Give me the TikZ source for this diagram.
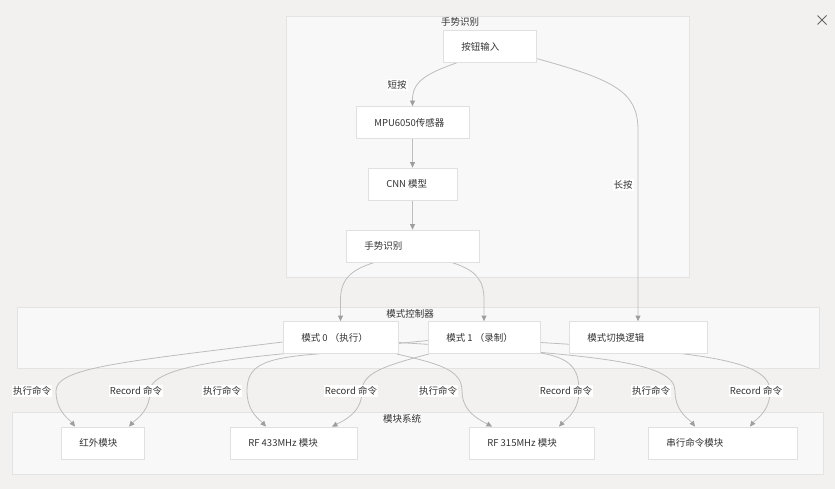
\documentclass[tikz,border=0pt]{standalone}
\usepackage{fontspec}
\setmainfont{Noto Sans CJK SC}
\usetikzlibrary{arrows.meta,calc}
\definecolor{bgc}{HTML}{F2F1F0}
\definecolor{sgfill}{HTML}{F8F8F8}
\definecolor{sgline}{HTML}{E3E3E3}
\definecolor{nline}{HTML}{E0E0E0}
\definecolor{eline}{HTML}{BDBDBD}
\definecolor{ahead}{HTML}{9E9E9E}
\definecolor{txt}{HTML}{333333}
\pgfdeclarelayer{bglayer}
\pgfdeclarelayer{edgelayer}
\pgfsetlayers{bglayer,edgelayer,main}
\begin{document}
\begin{tikzpicture}[x=1pt,y=-1pt,
  font=\fontsize{9.5}{11}\selectfont,
  box/.style={draw=nline, fill=white, line width=0.8pt, minimum height=32pt, inner sep=0pt},
  lbl/.style={anchor=west, xshift=18.5pt, inner sep=0pt, text=txt},
  sgbox/.style={draw=sgline, fill=sgfill, line width=0.8pt, inner sep=0pt},
  sgtitle/.style={inner sep=0pt, text=txt},
  edge/.style={draw=eline, line width=0.8pt, -{Triangle[length=5.5pt,width=5pt,color=ahead]}},
  elabel/.style={fill=white, inner xsep=1pt, inner ysep=1.5pt, text=txt}]
\useasboundingbox (0,0) rectangle (835,489);
\begin{pgfonlayer}{bglayer}
  \fill[bgc] (0,0) rectangle (835,489);
  \node[sgbox, minimum width=403pt, minimum height=261pt] (sg1) at (487.5,146.5) {};
  \node[sgbox, minimum width=802pt, minimum height=61pt] (sg2) at (418,337.5) {};
  \node[sgbox, minimum width=811pt, minimum height=62pt] (sg3) at (417.5,443) {};
  \node[sgtitle] (t1) at (460,22) {手势识别};
  \node[sgtitle] (t2) at (410,314) {模式控制器};
  \node[sgtitle] (t3) at (402,419) {模块系统};
  % close icon
  \coordinate (xc) at (822,20);
  \draw[color=black!60, line width=0.9pt] ($(xc)+(-4.5,-4.5)$) -- ($(xc)+(4.5,4.5)$)
    ($(xc)+(-4.5,4.5)$) -- ($(xc)+(4.5,-4.5)$);
\end{pgfonlayer}

% nodes
\node[box, minimum width=93pt, label={[lbl]west:按钮输入}] (A) at (489.5,46.5) {};
\node[box, minimum width=113pt, label={[lbl]west:MPU6050传感器}] (B) at (412.5,122.5) {};
\node[box, minimum width=89pt, label={[lbl]west:CNN 模型}] (C) at (412.5,184) {};
\node[box, minimum width=133pt, label={[lbl]west:手势识别}] (D) at (412.5,246) {};
\node[box, minimum width=115pt, label={[lbl]west:模式 0 （执行）}] (E) at (340.5,337.5) {};
\node[box, minimum width=112pt, label={[lbl]west:模式 1 （录制）}] (F) at (484,337.5) {};
\node[box, minimum width=138pt, label={[lbl]west:模式切换逻辑}] (G) at (638,337.5) {};
\node[box, minimum width=83pt, label={[lbl]west:红外模块}] (H) at (102.5,443) {};
\node[box, minimum width=127pt, label={[lbl]west:RF 433MHz 模块}] (I) at (293.5,443) {};
\node[box, minimum width=125pt, label={[lbl]west:RF 315MHz 模块}] (J) at (531.5,443) {};
\node[box, minimum width=149pt, label={[lbl]west:串行命令模块}] (K) at (722.5,443) {};

\begin{pgfonlayer}{edgelayer}
  % top subgraph
  \draw[edge] ($(A.south west)+(14,0)$) .. controls (425,74) and (412.5,82) .. (412.5,100) -- (B.north);
  \draw[edge] (B.south) -- (C.north);
  \draw[edge] (C.south) -- (D.north);
  \draw[edge] ($(A.east)+(0,12)$) .. controls (615,80) and (638,92) .. (638,130) -- (G.north);
  \draw[edge] ($(D.south west)+(29,0)$) .. controls (350,270) and (340.5,280) .. (340.5,300) -- (E.north);
  \draw[edge] ($(D.south east)+(-28,0)$) .. controls (476,270) and (484,280) .. (484,300) -- (F.north);
  % bottom
  \draw[edge] ($(E.west)+(0,4.5)$) .. controls (120,362) and (56,368) .. (56,391)
     .. controls (56,412) and (70,420) .. ($(H.north)+(-27.5,0)$);
  \draw[edge] ($(F.west)+(0,3)$) .. controls (300,354) and (150,358) .. (150,391)
     .. controls (150,412) and (135,420) .. ($(H.north)+(26.5,0)$);
  \draw[edge] ($(E.south)+(-22,0)$) .. controls (262,358) and (247,366) .. (247,391)
     .. controls (247,412) and (260,420) .. ($(I.north)+(-27.5,0)$);
  \draw[edge] ($(F.south)+(-55,0)$) .. controls (388,365) and (362,372) .. (362,391)
     .. controls (362,412) and (345,420) .. ($(I.north)+(38.5,0)$);
  \draw[edge] ($(E.south east)+(-2,0)$) .. controls (440,364) and (462,370) .. (462,391)
     .. controls (462,412) and (480,420) .. ($(J.north)+(-39.5,0)$);
  \draw[edge] ($(F.south east)+(0,-1)$) .. controls (570,358) and (579,368) .. (579,391)
     .. controls (579,412) and (565,420) .. ($(J.north)+(27.5,0)$);
  \draw[edge] ($(E.east)+(0,5)$) .. controls (600,355) and (675,362) .. (675,391)
     .. controls (675,412) and (690,420) .. ($(K.north)+(-27.5,0)$);
  \draw[edge] ($(F.east)+(0,5)$) .. controls (700,352) and (770,360) .. (770,391)
     .. controls (770,412) and (755,420) .. ($(K.north)+(27.5,0)$);
  % labels
  \node[elabel] (l1) at (397,85) {短按};
  \node[elabel] (l2) at (623,185) {长按};
  \node[elabel] (l3) at (32,391) {执行命令};
  \node[elabel] (l4) at (136,391) {Record 命令};
  \node[elabel] (l5) at (222,391) {执行命令};
  \node[elabel] (l6) at (351,391) {Record 命令};
  \node[elabel] (l7) at (438,391) {执行命令};
  \node[elabel] (l8) at (566,391) {Record 命令};
  \node[elabel] (l9) at (651,391) {执行命令};
  \node[elabel] (l10) at (756,391) {Record 命令};
\end{pgfonlayer}
\end{tikzpicture}
\end{document}
